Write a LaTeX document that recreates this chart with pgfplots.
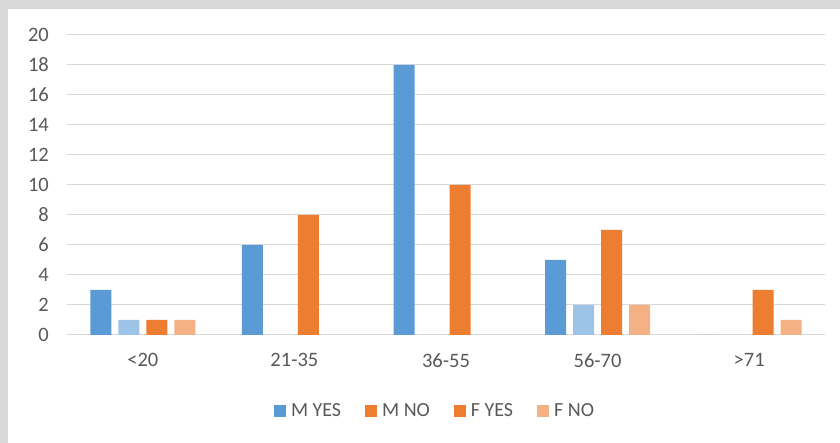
\documentclass[border=0pt]{standalone}
\usepackage{pgfplots}
\pgfplotsset{compat=1.18}
\usepackage{fontspec}
\setmainfont{Carlito}
\definecolor{myes}{HTML}{5B9BD5}
\definecolor{mno}{HTML}{9DC3E6}
\definecolor{fyes}{HTML}{ED7D31}
\definecolor{fno}{HTML}{F4B183}
\definecolor{gridc}{HTML}{D9D9D9}
\definecolor{labc}{HTML}{595959}
\begin{document}
\begin{tikzpicture}
  % background frame (pixel grid: axis lower left at px (67,335))
  \fill[gridc] (-67pt,-108pt) rectangle (773pt,335pt);
  \fill[white] (-59pt,-108pt) rectangle (773pt,326pt);
  \useasboundingbox (-67pt,-108pt) rectangle (773pt,335pt);
  \begin{axis}[
      at={(0pt,0pt)}, anchor=south west,
      scale only axis,
      width=758pt, height=300pt,
      ybar, bar width=21pt,
      xmin=-0.5, xmax=4.5,
      ymin=0, ymax=20,
      xtick=data,
      xticklabels={<20, 21-35, 36-55, 56-70, >71},
      ytick={0,2,...,20},
      /pgf/number format/assume math mode=true,
      ymajorgrids=true,
      grid style={gridc, line width=1pt},
      axis line style={draw=none},
      major tick length=0pt,
      tick label style={font=\fontsize{20.5}{24}\selectfont, text=labc},
      yticklabel style={inner sep=0pt, anchor=east, xshift=-18pt},
      xticklabel style={inner sep=0pt, anchor=north, yshift=-18pt},
      legend columns=4,
      legend style={draw=none, fill=none,
        at={(0.4855,-0.253)}, anchor=center,
        font=\fontsize{20}{24}\selectfont, text=labc,
        /tikz/every odd column/.append style={column sep=3pt},
        /tikz/every even column/.append style={column sep=22pt}},
      legend image code/.code={\fill[#1, draw=none] (0pt,-6pt) rectangle (12pt,6pt);},
    ]
    \addplot[fill=myes, draw=none, bar shift=-42pt, forget plot] coordinates {(0,3) (1,6) (2,18) (3,5) (4,0)};
    \addplot[fill=mno, draw=none, bar shift=-14pt, forget plot] coordinates {(0,1) (1,0) (2,0) (3,2) (4,0)};
    \addplot[fill=fyes, draw=none, bar shift=14pt, forget plot] coordinates {(0,1) (1,8) (2,10) (3,7) (4,3)};
    \addplot[fill=fno, draw=none, bar shift=42pt, forget plot] coordinates {(0,1) (1,0) (2,0) (3,2) (4,1)};
    \addlegendimage{fill=myes, draw=none}
    \addlegendentry{M YES}
    \addlegendimage{fill=fyes, draw=none}
    \addlegendentry{M NO}
    \addlegendimage{fill=fyes, draw=none}
    \addlegendentry{F YES}
    \addlegendimage{fill=fno, draw=none}
    \addlegendentry{F NO}
  \end{axis}
\end{tikzpicture}
\end{document}
